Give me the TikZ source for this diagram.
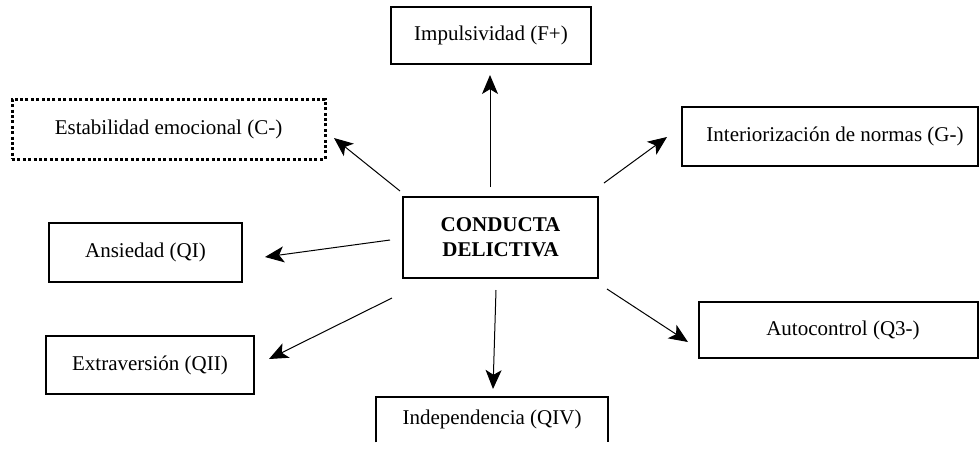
\documentclass[tikz,border=0pt]{standalone}
\usepackage{fontspec}
\setmainfont{Liberation Serif}
\usetikzlibrary{arrows.meta}
\begin{document}
\begin{tikzpicture}[x=0.5pt,y=-0.5pt,
  font=\fontsize{10.5pt}{12.6pt}\selectfont,
  box/.style={draw,line width=1pt,inner sep=0pt,align=center},
  dotbox/.style={draw,line width=1.5pt,dash pattern=on 1.5pt off 1.2pt,inner sep=0pt,align=center},
  open/.style={inner sep=0pt,align=center},
  arr/.style={line width=0.5pt,-{Stealth[length=9.5pt,width=8pt,inset=2.4pt]}}]
\useasboundingbox (0,0) rectangle (980,452);
% boxes
\node[box,minimum width=100pt,minimum height=28.5pt] (imp) at (491,35.5) {Impulsividad (F+)};
\node[box,minimum width=97.5pt,minimum height=40.5pt,font=\fontsize{10.5pt}{12.6pt}\selectfont\bfseries] (cd) at (500.5,237.5) {CONDUCTA\\DELICTIVA};
\node[box,minimum width=148pt,minimum height=29.5pt] (int) at (830,136.5) {\hspace*{5pt}Interiorización de normas (G-)};
\node[dotbox,minimum width=156.5pt,minimum height=30pt] (est) at (168.5,129) {Estabilidad emocional (C-)};
\node[box,minimum width=96.5pt,minimum height=29.5pt] (ans) at (145.5,252.5) {Ansiedad (QI)};
\node[box,minimum width=104pt,minimum height=29pt] (ext) at (150,365) {Extraversión (QII)};
\node[box,minimum width=139.5pt,minimum height=28pt] (aut) at (838.5,330) {\hspace*{4.5pt}Autocontrol (Q3-)};
\node[open,minimum width=116pt,minimum height=22.5pt] (ind) at (492,419.5) {Independencia (QIV)};
\draw[line width=1pt] (ind.south west) -- (ind.north west) -- (ind.north east) -- (ind.south east);
% connector ends
\coordinate (s1) at (490,187);  \coordinate (e1) at (490,75);
\coordinate (s2) at (604,183);  \coordinate (e2) at (667,137);
\coordinate (s3) at (400,191);  \coordinate (e3) at (334,138);
\coordinate (s4) at (390,240);  \coordinate (e4) at (265,257);
\coordinate (s5) at (392,298);  \coordinate (e5) at (269,359);
\coordinate (s6) at (496,290);  \coordinate (e6) at (493,389);
\coordinate (s7) at (607,289);  \coordinate (e7) at (688,342);
\draw[arr] (s1) -- (e1);
\draw[arr] (s2) -- (e2);
\draw[arr] (s3) -- (e3);
\draw[arr] (s4) -- (e4);
\draw[arr] (s5) -- (e5);
\draw[arr] (s6) -- (e6);
\draw[arr] (s7) -- (e7);
\end{tikzpicture}
\end{document}
